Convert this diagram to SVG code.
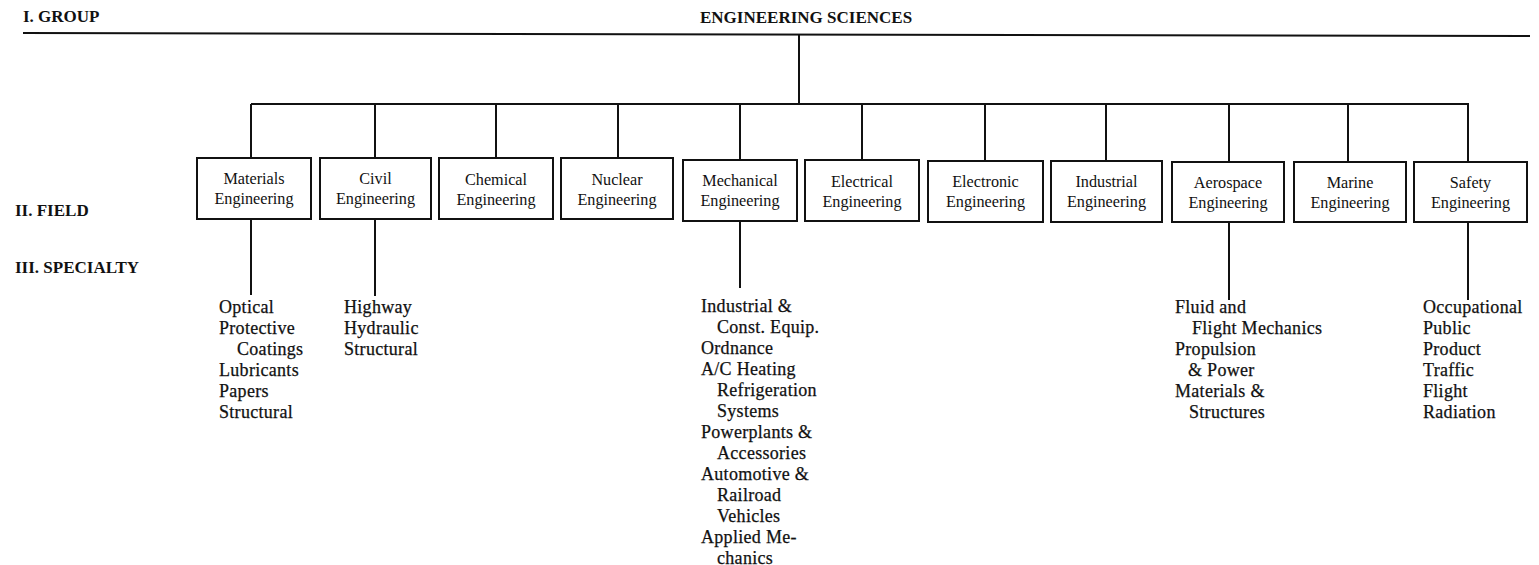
<svg xmlns="http://www.w3.org/2000/svg" width="1539" height="565" viewBox="0 0 1539 565">
<style>
.hdr{font-family:"Liberation Serif",serif;font-weight:bold;font-size:17px;fill:#111}
.box{fill:#fff;stroke:#111;stroke-width:2}
.bt{font-family:"Liberation Serif",serif;font-size:16.2px;fill:#111;text-anchor:middle}
.sp{font-family:"Liberation Serif",serif;font-size:18px;letter-spacing:0.3px;fill:#111;stroke:#111;stroke-width:0.25}
.ln{stroke:#111;stroke-width:2;fill:none}
</style>
<rect width="1539" height="565" fill="#fff"/>
<g id="labels">
<text class="hdr" x="23" y="22">I. GROUP</text>
<text class="hdr" x="15" y="216">II. FIELD</text>
<text class="hdr" x="15" y="273">III. SPECIALTY</text>
</g>
<g id="root">
<text class="hdr" x="700" y="23">ENGINEERING SCIENCES</text>
</g>
<g id="connectors">
<path class="ln" d="M23 33 L1530 36"/>
<path class="ln" d="M799 35 V105"/>
<path class="ln" d="M251 104 H1469"/>
<path class="ln" d="M251 104 V158 M375 104 V158 M496 104 V158 M618 104 V158 M740 104 V160 M862 104 V160 M985 104 V160 M1106 104 V160 M1229 104 V162 M1348 104 V162 M1468 104 V162"/>
<path class="ln" d="M251 219 V295 M375 219 V296 M740 221 V288 M1229 222 V300 M1468 222 V300"/>
</g>
<g id="materials"><rect class="box" x="197" y="158" width="114" height="61"/><text class="bt" x="254" y="184">Materials</text><text class="bt" x="254" y="204">Engineering</text></g>
<g id="civil"><rect class="box" x="320" y="158" width="111" height="61"/><text class="bt" x="375.5" y="184">Civil</text><text class="bt" x="375.5" y="204">Engineering</text></g>
<g id="chemical"><rect class="box" x="439" y="158" width="114" height="61"/><text class="bt" x="496" y="185">Chemical</text><text class="bt" x="496" y="205">Engineering</text></g>
<g id="nuclear"><rect class="box" x="561" y="158" width="112" height="61"/><text class="bt" x="617" y="185">Nuclear</text><text class="bt" x="617" y="205">Engineering</text></g>
<g id="mechanical"><rect class="box" x="683" y="160" width="114" height="61"/><text class="bt" x="740" y="186">Mechanical</text><text class="bt" x="740" y="206">Engineering</text></g>
<g id="electrical"><rect class="box" x="805" y="160" width="114" height="61"/><text class="bt" x="862" y="187">Electrical</text><text class="bt" x="862" y="207">Engineering</text></g>
<g id="electronic"><rect class="box" x="928" y="161" width="115" height="61"/><text class="bt" x="985.5" y="187">Electronic</text><text class="bt" x="985.5" y="207">Engineering</text></g>
<g id="industrial"><rect class="box" x="1051" y="161" width="111" height="61"/><text class="bt" x="1106.5" y="187">Industrial</text><text class="bt" x="1106.5" y="207">Engineering</text></g>
<g id="aerospace"><rect class="box" x="1172" y="162" width="112" height="60"/><text class="bt" x="1228" y="188">Aerospace</text><text class="bt" x="1228" y="208">Engineering</text></g>
<g id="marine"><rect class="box" x="1294" y="162" width="112" height="60"/><text class="bt" x="1350" y="188">Marine</text><text class="bt" x="1350" y="208">Engineering</text></g>
<g id="safety"><rect class="box" x="1414" y="162" width="113" height="60"/><text class="bt" x="1470.5" y="188">Safety</text><text class="bt" x="1470.5" y="208">Engineering</text></g>
<g id="materials-spec">
<text class="sp" x="219" y="313">Optical</text>
<text class="sp" x="219" y="334">Protective</text>
<text class="sp" x="237" y="355">Coatings</text>
<text class="sp" x="219" y="376">Lubricants</text>
<text class="sp" x="219" y="397">Papers</text>
<text class="sp" x="219" y="418">Structural</text>
</g>
<g id="civil-spec">
<text class="sp" x="344" y="313">Highway</text>
<text class="sp" x="344" y="334">Hydraulic</text>
<text class="sp" x="344" y="355">Structural</text>
</g>
<g id="mechanical-spec">
<text class="sp" x="701" y="312">Industrial  &amp;</text>
<text class="sp" x="717" y="333">Const. Equip.</text>
<text class="sp" x="701" y="354">Ordnance</text>
<text class="sp" x="701" y="375">A/C Heating</text>
<text class="sp" x="717" y="396">Refrigeration</text>
<text class="sp" x="717" y="417">Systems</text>
<text class="sp" x="701" y="438">Powerplants &amp;</text>
<text class="sp" x="717" y="459">Accessories</text>
<text class="sp" x="701" y="480">Automotive &amp;</text>
<text class="sp" x="717" y="501">Railroad</text>
<text class="sp" x="717" y="522">Vehicles</text>
<text class="sp" x="701" y="543">Applied Me-</text>
<text class="sp" x="717" y="564">chanics</text>
</g>
<g id="aerospace-spec">
<text class="sp" x="1175" y="313">Fluid and</text>
<text class="sp" x="1192" y="334">Flight Mechanics</text>
<text class="sp" x="1175" y="355">Propulsion</text>
<text class="sp" x="1188" y="376">&amp; Power</text>
<text class="sp" x="1175" y="397">Materials &amp;</text>
<text class="sp" x="1189" y="418">Structures</text>
</g>
<g id="safety-spec">
<text class="sp" x="1423" y="313">Occupational</text>
<text class="sp" x="1423" y="334">Public</text>
<text class="sp" x="1423" y="355">Product</text>
<text class="sp" x="1423" y="376">Traffic</text>
<text class="sp" x="1423" y="397">Flight</text>
<text class="sp" x="1423" y="418">Radiation</text>
</g>
</svg>
